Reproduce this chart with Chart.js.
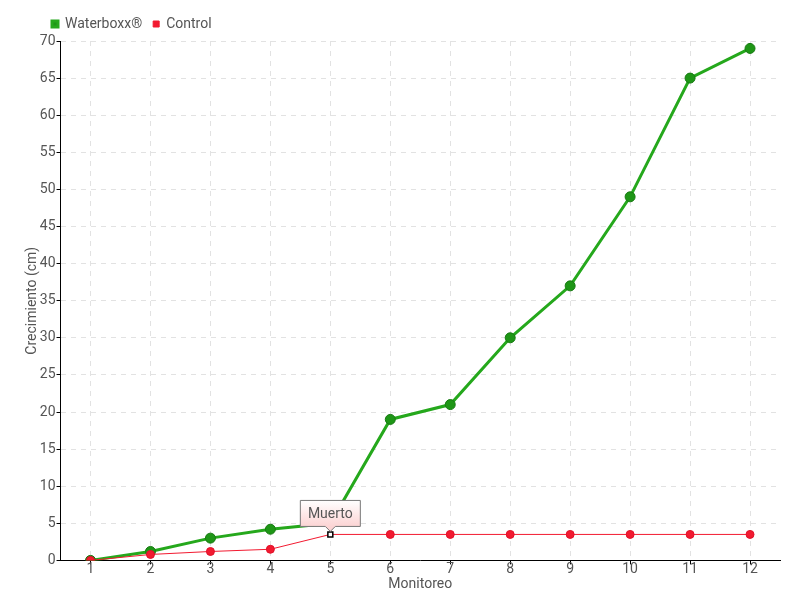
<!DOCTYPE html>
<html>
<head>
<meta charset="utf-8">
<script src="https://cdn.jsdelivr.net/npm/chart.js@4"></script>
<style>
  html, body { margin: 0; padding: 0; background: #fff; }
  #wrap { width: 800px; height: 600px; }
</style>
</head>
<body>
<div id="wrap"><canvas id="growthChart"></canvas></div>
<script>
const monitoreo = ['1', '2', '3', '4', '5', '6', '7', '8', '9', '10', '11', '12'];
const waterboxx = [0, 1.2, 3, 4.2, 5, 19, 21, 30, 37, 49, 65, 69];
const control = [0, 0.8, 1.2, 1.5, 3.5, 3.5, 3.5, 3.5, 3.5, 3.5, 3.5, 3.5];
const deadIndex = 4;
const deadLabel = 'Muerto';

const FONT = "Roboto, 'Noto Sans', sans-serif";

// small pink tooltip over the point where the control plant died
const deadMarker = {
    id: 'deadMarker',
    afterLayout(chart) {
        // legend sits in line with the plot, not with the page edge
        if (chart.legend) chart.legend.left += 41;
    },
    afterDatasetsDraw(chart) {
        const ctx = chart.ctx;
        const x = chart.scales.x.getPixelForValue(deadIndex);
        const y = chart.scales.y.getPixelForValue(control[deadIndex]);
        const w = 60, h = 26;
        const left = x - w / 2, top = y - 8 - h;
        const grad = ctx.createLinearGradient(0, top, 0, top + h);
        grad.addColorStop(0, '#ffffff');
        grad.addColorStop(1, '#fcd4d4');
        ctx.save();
        ctx.beginPath();
        ctx.moveTo(left, top);
        ctx.lineTo(left + w, top);
        ctx.lineTo(left + w, top + h);
        ctx.lineTo(x + 5, top + h);
        ctx.lineTo(x, top + h + 5);
        ctx.lineTo(x - 5, top + h);
        ctx.lineTo(left, top + h);
        ctx.closePath();
        ctx.fillStyle = grad;
        ctx.fill();
        ctx.strokeStyle = '#777';
        ctx.lineWidth = 1;
        ctx.stroke();
        ctx.fillStyle = '#555';
        ctx.font = '14px ' + FONT;
        ctx.textAlign = 'center';
        ctx.textBaseline = 'middle';
        ctx.fillText(deadLabel, x, top + h / 2 + 1);
        ctx.restore();
    }
};

const ctx = document.getElementById('growthChart').getContext('2d');
new Chart(ctx, {
    type: 'line',
    data: {
        labels: monitoreo,
        datasets: [{
            label: 'Waterboxx®',
            data: waterboxx,
            borderColor: '#25a81c',
            backgroundColor: '#1e9616',
            borderWidth: 3,
            pointRadius: 5,
            pointBackgroundColor: '#1e9616',
            pointBorderColor: '#177a12',
            pointBorderWidth: 1,
            order: 1
        }, {
            label: 'Control',
            data: control,
            borderColor: '#f21a30',
            backgroundColor: '#f21a30',
            borderWidth: 1,
            pointRadius: control.map((v, i) => i === deadIndex ? 3.5 : 4),
            pointStyle: control.map((v, i) => i === deadIndex ? 'rect' : 'circle'),
            pointBackgroundColor: control.map((v, i) => i === deadIndex ? '#ffffff' : '#f21a30'),
            pointBorderColor: control.map((v, i) => i === deadIndex ? '#000000' : '#e01028'),
            pointBorderWidth: control.map((v, i) => i === deadIndex ? 1.5 : 1),
            order: 0
        }]
    },
    options: {
        responsive: true,
        maintainAspectRatio: false,
        animation: false,
        layout: { padding: { top: 6, right: 20, left: 0, bottom: 7 } },
        plugins: {
            legend: {
                align: 'start',
                labels: {
                    boxWidth: 6,
                    boxHeight: 6,
                    padding: 11,
                    color: '#555',
                    font: { family: FONT, size: 14 },
                    sort: (a, b) => a.datasetIndex - b.datasetIndex
                }
            },
            tooltip: { enabled: false }
        },
        scales: {
            x: {
                offset: true,
                grid: {
                    offset: false,
                    color: '#e2e2e2',
                    tickColor: '#000',
                    tickLength: 4
                },
                border: { color: '#000', width: 1, dash: [5, 5] },
                ticks: { color: '#555', padding: -3, font: { family: FONT, size: 14 } },
                title: {
                    display: true,
                    text: 'Monitoreo',
                    color: '#555',
                    padding: { top: 1, bottom: 0 },
                    font: { family: FONT, size: 14 }
                }
            },
            y: {
                min: 0,
                max: 70,
                ticks: {
                    stepSize: 5,
                    color: '#555',
                    padding: 1,
                    font: { family: FONT, size: 14 }
                },
                grid: {
                    color: '#e2e2e2',
                    tickColor: '#000',
                    tickLength: 4
                },
                border: { color: '#000', width: 1, dash: [5, 5] },
                title: {
                    display: true,
                    text: 'Crecimiento (cm)',
                    color: '#555',
                    padding: { top: 24, bottom: -2 },
                    font: { family: FONT, size: 14 }
                }
            }
        }
    },
    plugins: [deadMarker]
});
</script>
</body>
</html>
